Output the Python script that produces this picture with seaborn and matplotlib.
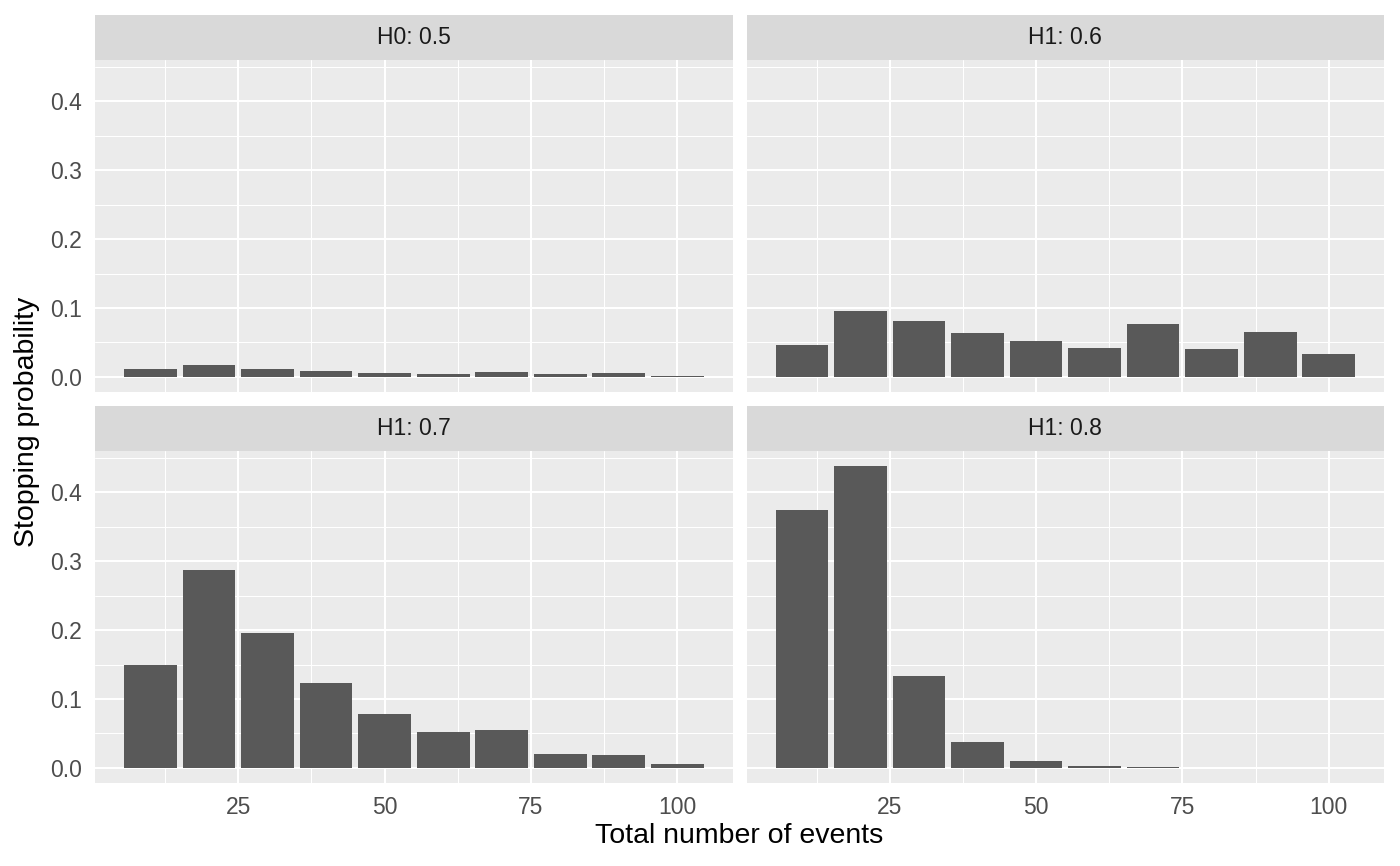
import numpy as np
import pandas as pd
import seaborn as sns
import matplotlib.pyplot as plt
from matplotlib.patches import Rectangle
from matplotlib.ticker import FixedLocator

# data
events = [10, 20, 30, 40, 50, 60, 70, 80, 90, 100]
panels = ["H0: 0.5", "H1: 0.6", "H1: 0.7", "H1: 0.8"]
prob_h0_05 = [0.011, 0.017, 0.011, 0.008, 0.005, 0.004, 0.007, 0.004, 0.005, 0.002]
prob_h1_06 = [0.046, 0.095, 0.081, 0.064, 0.052, 0.042, 0.077, 0.040, 0.065, 0.033]
prob_h1_07 = [0.149, 0.287, 0.196, 0.123, 0.078, 0.052, 0.055, 0.020, 0.019, 0.006]
prob_h1_08 = [0.375, 0.438, 0.133, 0.038, 0.010, 0.003, 0.001, 0.0, 0.0, 0.0]

x_breaks = [25, 50, 75, 100]
x_minor = [12.5, 37.5, 62.5, 87.5]
y_breaks = [0.0, 0.1, 0.2, 0.3, 0.4]
y_minor = [0.05, 0.15, 0.25, 0.35, 0.45]

df = pd.DataFrame({
    "events": events * 4,
    "prob": prob_h0_05 + prob_h1_06 + prob_h1_07 + prob_h1_08,
    "panel": np.repeat(panels, len(events)),
})

sns.set_style("white")
plt.rcParams["font.family"] = ["Liberation Sans", "DejaVu Sans"]

fig, axes = plt.subplots(2, 2, figsize=(14, 8.66), dpi=100, sharex=True, sharey=True)
fig.subplots_adjust(left=0.068, right=0.9886, top=0.9307, bottom=0.0958,
                    hspace=0.178, wspace=0.022)

# ggplot style expansion of the scales
xlo = min(events) - 4.5
xhi = max(events) + 4.5
xpad = (xhi - xlo) * 0.05
ytop = df["prob"].max()
ypad = ytop * 0.05

for ax, name in zip(axes.flat, panels):
    sub = df[df["panel"] == name]
    sns.barplot(data=sub, x="events", y="prob", native_scale=True, width=0.9,
                color="#595959", errorbar=None, linewidth=0, saturation=1, ax=ax)
    ax.set_facecolor("#EBEBEB")
    ax.set_xlim(xlo - xpad, xhi + xpad)
    ax.set_ylim(-ypad, ytop + ypad)
    ax.xaxis.set_major_locator(FixedLocator(x_breaks))
    ax.xaxis.set_minor_locator(FixedLocator(x_minor))
    ax.yaxis.set_major_locator(FixedLocator(y_breaks))
    ax.yaxis.set_minor_locator(FixedLocator(y_minor))
    ax.set_yticklabels([f"{v:.1f}" for v in y_breaks])
    ax.set_xticklabels([str(v) for v in x_breaks])
    ax.set_axisbelow(True)
    ax.grid(which="major", color="white", linewidth=1.45)
    ax.grid(which="minor", color="white", linewidth=0.72)
    for s in ax.spines.values():
        s.set_visible(False)
    ax.set_xlabel("")
    ax.set_ylabel("")
    ax.tick_params(which="minor", length=0)
    ax.tick_params(which="major", length=5, width=1.4, color="#333333",
                   labelsize=16.5, labelcolor="#4D4D4D", pad=4.5)

    # facet strip
    strip_h = 45 / 332
    ax.add_patch(Rectangle((0, 1), 1, strip_h, transform=ax.transAxes,
                           facecolor="#D9D9D9", edgecolor="none", clip_on=False))
    ax.text(0.5, 1 + strip_h / 2, name, transform=ax.transAxes, ha="center",
            va="center", fontsize=16.5, color="#1A1A1A")

# ticks only on outer axes
for ax in axes[0, :]:
    ax.tick_params(axis="x", which="major", length=0)
for ax in axes[:, 1]:
    ax.tick_params(axis="y", which="major", length=0)

fig.text(0.528, 0.035, "Total number of events", ha="center", va="center",
         fontsize=20.5, color="black")
fig.text(0.019, 0.513, "Stopping probability", ha="center", va="center",
         rotation=90, fontsize=20.5, color="black")

fig.savefig("out.png", dpi=100)
